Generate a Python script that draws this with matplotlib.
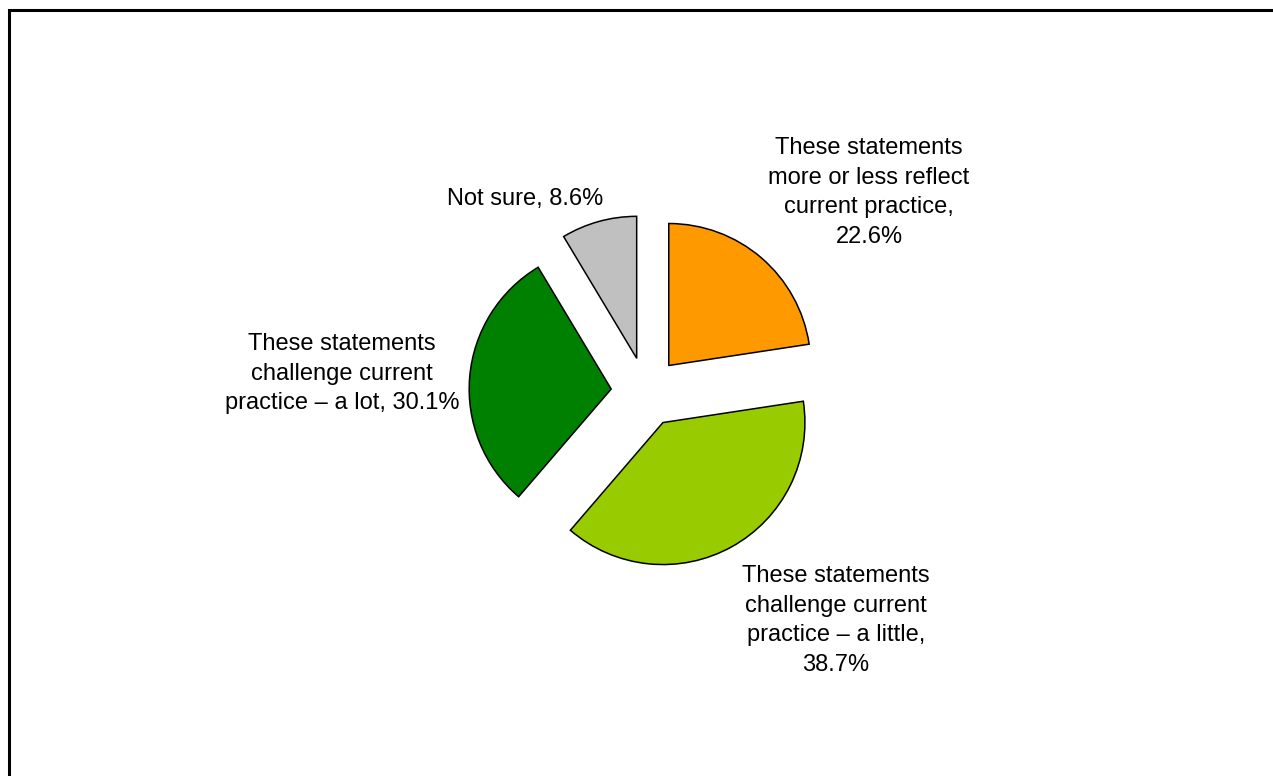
import matplotlib
matplotlib.use("Agg")
import matplotlib.pyplot as plt
from matplotlib.patches import Rectangle

# survey answers, clockwise from 12 o'clock
answers = [
    "These statements\nmore or less reflect\ncurrent practice,",
    "These statements\nchallenge current\npractice \u2013 a little,",
    "These statements\nchallenge current\npractice \u2013 a lot,",
    "Not sure,",
]
shares = [22.6, 38.7, 30.1, 8.6]
colors = ["#FF9900", "#99CC00", "#008000", "#C0C0C0"]

# where each label block sits (top centre, in pie-radius units)
label_pos = [(1.570, 1.796), (1.338, -1.218), (-2.141, 0.415), (-0.852, 1.437)]
# last line break before the value where the label wraps
joiners = ["\n", "\n", " ", " "]

plt.rcParams["font.family"] = ["Liberation Sans", "DejaVu Sans"]

W, H = 1273, 776
fig = plt.figure(figsize=(W / 100, H / 100), dpi=100)
ax = fig.add_axes([0, 0, 1, 1])

# pie centre and radius in pixels
cx, cy, r = 646, 392, 142

ax.pie(shares, colors=colors, startangle=90, counterclock=False,
       explode=[0.246] * len(shares), radius=1,
       wedgeprops=dict(edgecolor="black", linewidth=1.1))
ax.set_xlim(-cx / r, (W - cx) / r)
ax.set_ylim(-(H - cy) / r, cy / r)
ax.set_aspect("auto")
ax.axis("off")

for name, val, (tx, ty), j in zip(answers, shares, label_pos, joiners):
    ax.text(tx, ty, f"{name}{j}{val:.1f}%", ha="center", va="top",
            multialignment="center", fontsize=17, linespacing=1.45)

# outer frame, runs past the right and bottom edges
fig.patches.append(Rectangle((9 / W, -0.1), 1.2, 1 - 10 / H + 0.1,
                             transform=fig.transFigure, fill=False,
                             edgecolor="black", linewidth=2.2))

fig.savefig("out.png", dpi=100)
